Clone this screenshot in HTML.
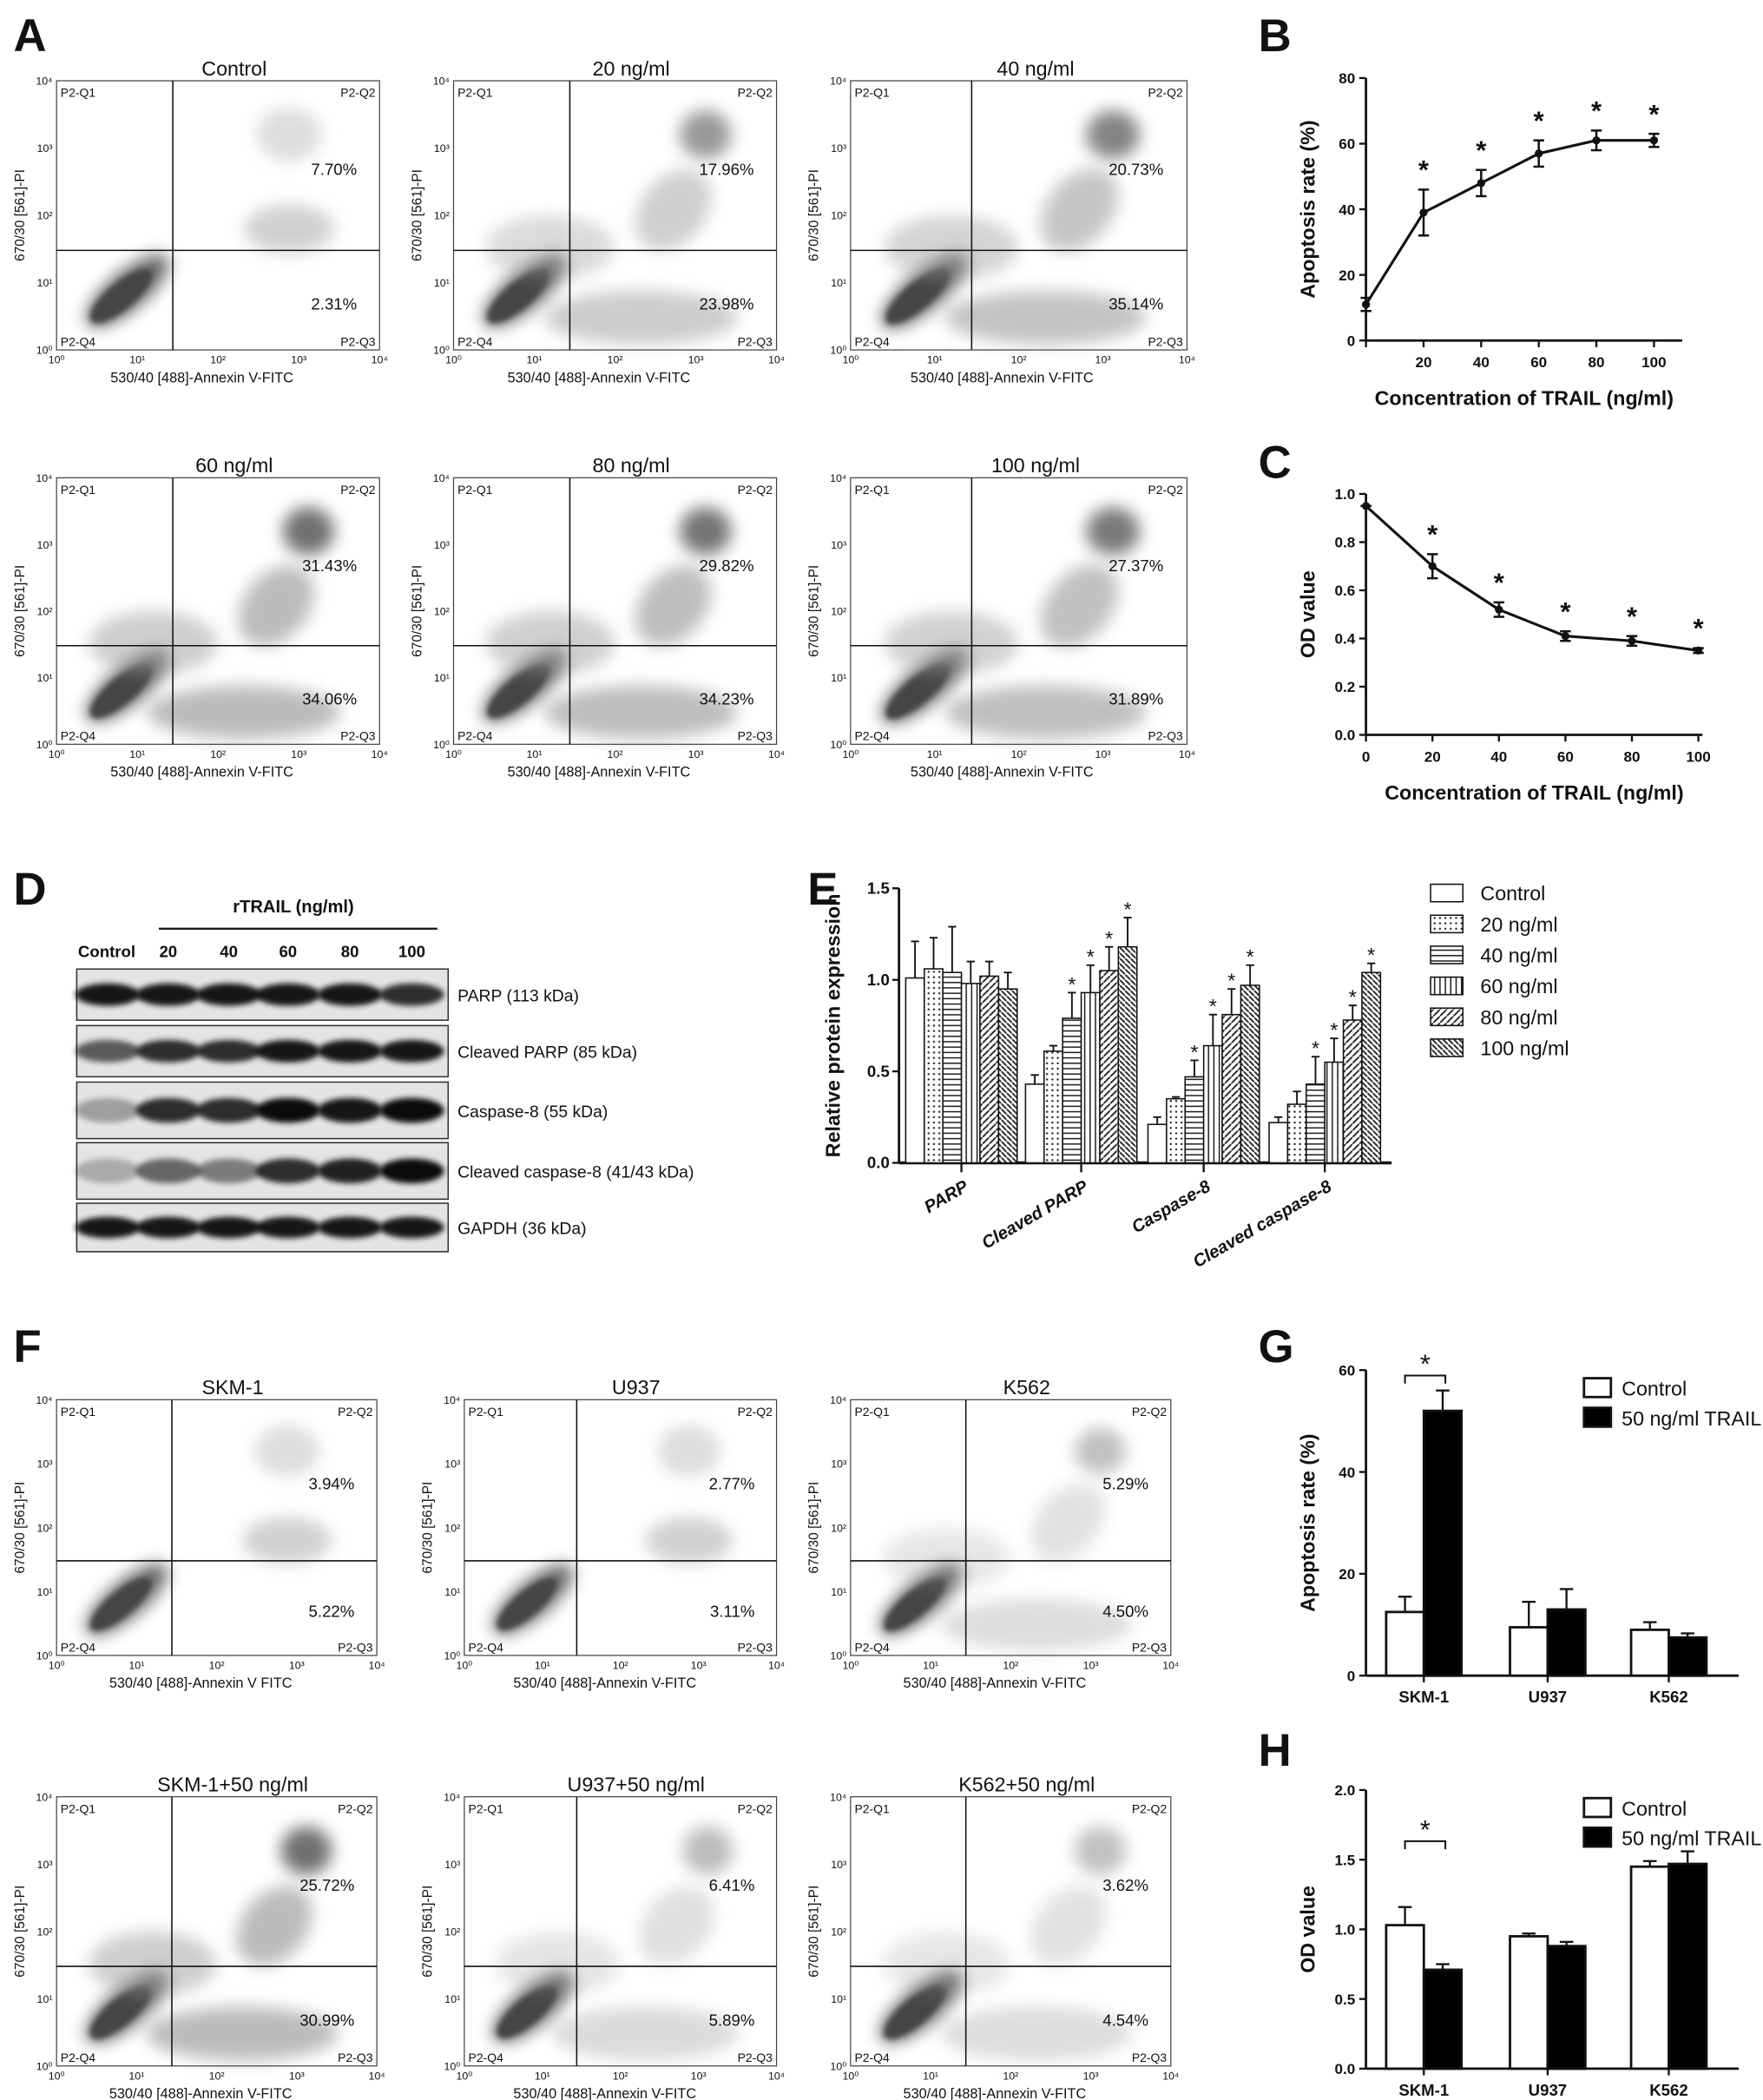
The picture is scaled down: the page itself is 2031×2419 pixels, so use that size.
<!DOCTYPE html>
<html><head><meta charset="utf-8"><style>
body{margin:0;background:#fff}
svg{display:block}
text{font-family:"Liberation Sans",sans-serif;fill:#111}
</style></head><body>
<svg id="fig" width="2031" height="2419" viewBox="0 0 1310 1560.3" xmlns="http://www.w3.org/2000/svg">
<defs>
<filter id="bl" x="-50%" y="-50%" width="200%" height="200%"><feGaussianBlur stdDeviation="6"/></filter>
<filter id="bl2" x="-50%" y="-50%" width="200%" height="200%"><feGaussianBlur stdDeviation="2"/></filter>
<pattern id="pDot" width="4" height="4" patternUnits="userSpaceOnUse"><rect width="4" height="4" fill="#fff"/><circle cx="2" cy="2" r="0.8" fill="#333"/></pattern>
<pattern id="pH" width="4" height="4" patternUnits="userSpaceOnUse"><rect width="4" height="4" fill="#fff"/><line x1="0" y1="2" x2="4" y2="2" stroke="#222" stroke-width="1"/></pattern>
<pattern id="pV" width="4" height="4" patternUnits="userSpaceOnUse"><rect width="4" height="4" fill="#fff"/><line x1="2" y1="0" x2="2" y2="4" stroke="#222" stroke-width="1"/></pattern>
<pattern id="pD1" width="5" height="5" patternUnits="userSpaceOnUse"><rect width="5" height="5" fill="#fff"/><path d="M0 5L5 0" stroke="#222" stroke-width="1.2"/></pattern>
<pattern id="pD2" width="4" height="4" patternUnits="userSpaceOnUse"><rect width="4" height="4" fill="#fff"/><path d="M0 0L4 4" stroke="#222" stroke-width="1.2"/></pattern>
</defs>
<g id="root"></g>
</svg>
<script>
// ---------- data ----------
const bX=[0,20,40,60,80,100];
const bVal=[11,39,48,57,61,61];
const bErr=[2,7,4,4,3,2];
const cX=[0,20,40,60,80,100];
const cVal=[0.95,0.70,0.52,0.41,0.39,0.35];
const cErr=[0,0.05,0.03,0.02,0.02,0.01];
const eGroups=["PARP","Cleaved PARP","Caspase-8","Cleaved caspase-8"];
const eSeries=["Control","20 ng/ml","40 ng/ml","60 ng/ml","80 ng/ml","100 ng/ml"];
const eVal=[[1.01,1.06,1.04,0.98,1.02,0.95],[0.43,0.61,0.79,0.93,1.05,1.18],[0.21,0.35,0.47,0.64,0.81,0.97],[0.22,0.32,0.43,0.55,0.78,1.04]];
const eErr=[[0.2,0.17,0.25,0.12,0.08,0.09],[0.05,0.03,0.14,0.15,0.13,0.16],[0.04,0.01,0.09,0.17,0.14,0.11],[0.03,0.07,0.15,0.13,0.08,0.05]];
const gCats=["SKM-1","U937","K562"];
const gCtrl=[12.5,9.5,9];const gCtrlErr=[3,5,1.5];
const gTrail=[52,13,7.5];const gTrailErr=[4,4,0.8];
const hCtrl=[1.03,0.95,1.45];const hCtrlErr=[0.13,0.02,0.04];
const hTrail=[0.71,0.88,1.47];const hTrailErr=[0.04,0.03,0.09];
const aTitles=["Control","20 ng/ml","40 ng/ml","60 ng/ml","80 ng/ml","100 ng/ml"];
const aQ2=["7.70%","17.96%","20.73%","31.43%","29.82%","27.37%"];
const aQ3=["2.31%","23.98%","35.14%","34.06%","34.23%","31.89%"];
const fTitles=["SKM-1","U937","K562","SKM-1+50 ng/ml","U937+50 ng/ml","K562+50 ng/ml"];
const fQ2=["3.94%","2.77%","5.29%","25.72%","6.41%","3.62%"];
const fQ3=["5.22%","3.11%","4.50%","30.99%","5.89%","4.54%"];
// ---------- helpers ----------
const NS="http://www.w3.org/2000/svg";const root=document.getElementById('root');
function el(tag,at,par,txt){const e=document.createElementNS(NS,tag);for(const k in at)e.setAttribute(k,at[k]);if(txt!==undefined)e.textContent=txt;(par||root).appendChild(e);return e;}
function g(name,par){const e=el('g',{},par);


return e;}
function T(p,x,y,s,o){return el('text',Object.assign({x:x,y:y,'font-size':11},o||{}),p,s);}
function L(p,x1,y1,x2,y2,w){return el('line',{x1,y1,x2,y2,stroke:'#111','stroke-width':w||1.3},p);}
[["A",10,38],["B",935,38],["C",935,355],["D",10,672],["E",600,672],["F",10,1012],["G",935,1012],["H",935,1312]].forEach(a=>{
const t=T(root,a[1],a[2],a[0],{'font-size':34,'font-weight':'bold'});

});
// ---------- flow plots ----------
function flow(x0,y0,w,h,title,q2,q3,lvl,name,flabel){
const p=g(name);
const vx=x0+0.36*w,hy=y0+0.63*h;
const c=g('scatter-cloud',p);
el('ellipse',{cx:x0+0.22*w,cy:y0+0.78*h,rx:0.16*w,ry:0.07*h,transform:`rotate(-40 ${x0+0.22*w} ${y0+0.78*h})`,fill:'#555',opacity:0.9,filter:'url(#bl)'},c);
el('ellipse',{cx:x0+0.2*w,cy:y0+0.8*h,rx:0.12*w,ry:0.05*h,transform:`rotate(-40 ${x0+0.2*w} ${y0+0.8*h})`,fill:'#444',filter:'url(#bl2)'},c);
if(lvl>0){
el('ellipse',{cx:x0+0.58*w,cy:y0+0.88*h,rx:0.3*w,ry:0.1*h,fill:'#888',opacity:0.25+0.35*lvl,filter:'url(#bl)'},c);
el('ellipse',{cx:x0+0.78*w,cy:y0+0.2*h,rx:0.08*w,ry:0.09*h,fill:'#555',opacity:0.3+0.6*lvl,filter:'url(#bl)'},c);
el('ellipse',{cx:x0+0.68*w,cy:y0+0.48*h,rx:0.14*w,ry:0.12*h,transform:`rotate(-50 ${x0+0.68*w} ${y0+0.48*h})`,fill:'#888',opacity:0.2+0.4*lvl,filter:'url(#bl)'},c);
el('ellipse',{cx:x0+0.3*w,cy:y0+0.62*h,rx:0.2*w,ry:0.12*h,fill:'#999',opacity:0.2+0.3*lvl,filter:'url(#bl)'},c);
}else{
el('ellipse',{cx:x0+0.72*w,cy:y0+0.2*h,rx:0.1*w,ry:0.1*h,fill:'#aaa',opacity:0.4,filter:'url(#bl)'},c);
el('ellipse',{cx:x0+0.72*w,cy:y0+0.55*h,rx:0.14*w,ry:0.09*h,fill:'#999',opacity:0.45,filter:'url(#bl)'},c);}
el('rect',{x:x0,y:y0,width:w,height:h,fill:'none',stroke:'#444','stroke-width':0.8},p);
L(p,vx,y0,vx,y0+h,1);L(p,x0,hy,x0+w,hy,1);
T(p,x0+0.55*w,y0-4,title,{'font-size':15,'text-anchor':'middle'});
T(p,x0+3,y0+12,'P2-Q1',{'font-size':9});T(p,x0+w-3,y0+12,'P2-Q2',{'font-size':9,'text-anchor':'end'});
T(p,x0+3,y0+h-3,'P2-Q4',{'font-size':9});T(p,x0+w-3,y0+h-3,'P2-Q3',{'font-size':9,'text-anchor':'end'});
T(p,x0+0.93*w,y0+0.35*h,q2,{'font-size':12,'text-anchor':'end'});T(p,x0+0.93*w,y0+0.85*h,q3,{'font-size':12,'text-anchor':'end'});
for(let i=0;i<5;i++){const tx=x0+i*w/4,ty=y0+h-i*h/4;
T(p,tx,y0+h+10,'10'+['⁰','¹','²','³','⁴'][i],{'font-size':8,'text-anchor':'middle'});
T(p,x0-3,ty+3,'10'+['⁰','¹','²','³','⁴'][i],{'font-size':8,'text-anchor':'end'});}
T(p,x0+0.45*w,y0+h+24,flabel,{'font-size':10.5,'text-anchor':'middle'});
T(p,0,0,'670/30 [561]-PI',{'font-size':10,'text-anchor':'middle',transform:`translate(${x0-24},${y0+h/2}) rotate(-90)`});
}
const aX=[42,337,632],aW=[240,240,250];
const lvA=[0,0.5,0.7,0.9,0.85,0.8];
for(let i=0;i<6;i++){const r=Math.floor(i/3),k=i%3;flow(aX[k],r?355:60,aW[k],r?198:200,aTitles[i],aQ2[i],aQ3[i],lvA[i],'flow-plot-a-'+(i+1),'530/40 [488]-Annexin V-FITC');}
const fX=[42,345,632],fW=[238,232,238];
const lvF=[0,0,0.1,0.9,0.15,0.1];
for(let i=0;i<6;i++){const r=Math.floor(i/3),k=i%3;flow(fX[k],r?1335:1040,fW[k],r?200:190,fTitles[i],fQ2[i],fQ3[i],lvF[i],'flow-plot-f-'+(i+1),i%3==0&&i<3?'530/40 [488]-Annexin V FITC':'530/40 [488]-Annexin V-FITC');}
// ---------- line charts ----------
function lineChart(name,x0,x1,y0,y1,ymax,yticks,fmt,xs,vals,errs,ylab,xend){
const p=g(name);const sx=v=>x0+(x1-x0)*v/100,sy=v=>y0-(y0-y1)*v/ymax;
L(p,x0,y0,x0,sy(ymax),1.8);L(p,x0,y0,xend,y0,1.8);
yticks.forEach(t=>{L(p,x0-5,sy(t),x0,sy(t),1.5);T(p,x0-8,sy(t)+4,fmt(t),{'font-size':11,'font-weight':'bold','text-anchor':'end'});});
[0,20,40,60,80,100].forEach(t=>{L(p,sx(t),y0,sx(t),y0+5,1.5);if(t>0||name=='chart-c')T(p,sx(t),y0+20,t,{'font-size':11,'font-weight':'bold','text-anchor':'middle'});});
el('polyline',{points:xs.map((x,i)=>sx(x)+','+sy(vals[i])).join(' '),fill:'none',stroke:'#111','stroke-width':2},p);
xs.forEach((x,i)=>{const X=sx(x);L(p,X,sy(vals[i]+errs[i]),X,sy(vals[i]-errs[i]),1.6);L(p,X-4,sy(vals[i]+errs[i]),X+4,sy(vals[i]+errs[i]),1.6);L(p,X-4,sy(vals[i]-errs[i]),X+4,sy(vals[i]-errs[i]),1.6);
el('circle',{cx:X,cy:sy(vals[i]),r:3,fill:'#111'},p);
if(i>0)T(p,X,sy(vals[i]+errs[i])-8,'*',{'font-size':20,'font-weight':'bold','text-anchor':'middle'});});
T(p,(x0+xend)/2,y0+48,'Concentration of TRAIL (ng/ml)',{'font-size':15,'font-weight':'bold','text-anchor':'middle'});
T(p,0,0,ylab,{'font-size':15,'font-weight':'bold','text-anchor':'middle',transform:`translate(${x0-38},${(y0+sy(ymax))/2}) rotate(-90)`});
}
lineChart('chart-b',1015,1229,253,58,80,[0,20,40,60,80],t=>t,bX,bVal,bErr,'Apoptosis rate (%)',1250);
lineChart('chart-c',1015,1262,546,367,1.0,[0,0.2,0.4,0.6,0.8,1.0],t=>t.toFixed(1),cX,cVal,cErr,'OD value',1265);
// ---------- blot ----------
(function(){const p=g('western-blot-d');
T(p,218,678,'rTRAIL (ng/ml)',{'font-size':13,'font-weight':'bold','text-anchor':'middle'});L(p,118,690,325,690,1.5);
T(p,58,711,'Control',{'font-size':12,'font-weight':'bold'});
[['20',125],['40',170],['60',214],['80',260],['100',306]].forEach(a=>T(p,a[1],711,a[0],{'font-size':12,'font-weight':'bold','text-anchor':'middle'}));
const rows=[[720,758,'PARP (113 kDa)',[.9,.9,.9,.9,.9,.8]],[762,800,'Cleaved PARP (85 kDa)',[.6,.8,.8,.9,.9,.9]],[804,846,'Caspase-8 (55 kDa)',[.3,.8,.8,.95,.9,.95]],[849,891,'Cleaved caspase-8 (41/43 kDa)',[.25,.55,.45,.8,.85,.95]],[894,930,'GAPDH (36 kDa)',[.9,.9,.9,.9,.9,.9]]];
const lanes=[80,125,170,214,260,306];
rows.forEach(r=>{el('rect',{x:57,y:r[0],width:276,height:r[1]-r[0],fill:'#e4e4e4',stroke:'#333','stroke-width':1},p);
lanes.forEach((lx,i)=>el('ellipse',{cx:lx,cy:(r[0]+r[1])/2,rx:24,ry:(r[1]-r[0])*0.22,fill:'#000',opacity:r[3][i],filter:'url(#bl2)'},p));
T(p,340,(r[0]+r[1])/2+5,r[2],{'font-size':12.5});});})();
// ---------- bar chart E ----------
(function(){const p=g('chart-e');const x0=668,y0=864,yt=660,sy=v=>y0-(y0-yt)*v/1.5;
const fills=['#fff','url(#pDot)','url(#pH)','url(#pV)','url(#pD1)','url(#pD2)'];
L(p,x0,y0,x0,yt,1.8);L(p,x0,y0,1034,y0,2.2);
[0,0.5,1.0,1.5].forEach(t=>{L(p,x0-5,sy(t),x0,sy(t),1.5);T(p,x0-7,sy(t)+4,t.toFixed(1),{'font-size':12,'font-weight':'bold','text-anchor':'end'});});
const gs=[673,762,853,943],bw=13.8;
eGroups.forEach((gn,gi)=>{eVal[gi].forEach((v,si)=>{const x=gs[gi]+si*bw,top=sy(v),et=sy(v+eErr[gi][si]);
el('rect',{x:x,y:top,width:bw,height:y0-top,fill:fills[si],stroke:'#111','stroke-width':1},p);
L(p,x+bw/2,top,x+bw/2,et,1.2);L(p,x+bw/2-3,et,x+bw/2+3,et,1.2);
if(gi>0&&si>1)T(p,x+bw/2,et-1,'*',{'font-size':15,'text-anchor':'middle'});});
const cx=gs[gi]+3*bw;L(p,cx,y0,cx,y0+7,1.5);
T(p,0,0,gn,{'font-size':13,'font-weight':'bold','font-style':'italic','text-anchor':'end',transform:`translate(${cx+6},${y0+20}) rotate(-30)`});});
T(p,0,0,'Relative protein expression',{'font-size':15,'font-weight':'bold','text-anchor':'middle',transform:`translate(624,${(y0+yt)/2}) rotate(-90)`});
eSeries.forEach((s,i)=>{const y=657+i*23;el('rect',{x:1063,y:y,width:24,height:13,fill:fills[i],stroke:'#111','stroke-width':1},p);T(p,1100,y+12,s,{'font-size':15});});})();
// ---------- G/H ----------
function pair(name,x0,y0,yt,ymax,ticks,fmt,c,ce,t,te,ylab,sig){
const p=g(name);const sy=v=>y0-(y0-yt)*v/ymax;
L(p,x0,y0,x0,yt,1.8);L(p,x0,y0,1292,y0,1.8);
ticks.forEach(v=>{L(p,x0-5,sy(v),x0,sy(v),1.5);T(p,x0-8,sy(v)+4,fmt(v),{'font-size':11,'font-weight':'bold','text-anchor':'end'});});
const cs=[1058,1150,1240],bw=28;
gCats.forEach((cn,i)=>{[[c,ce,'#fff',-bw],[t,te,'#000',0]].forEach(s=>{const x=cs[i]+s[3],top=sy(s[0][i]),et=sy(s[0][i]+s[1][i]);
L(p,x+bw/2,top,x+bw/2,et,1.5);L(p,x+bw/2-5,et,x+bw/2+5,et,1.5);
el('rect',{x:x,y:top,width:bw,height:y0-top,fill:s[2],stroke:'#111','stroke-width':1.8},p);});
L(p,cs[i],y0,cs[i],y0+5,1.5);T(p,cs[i],y0+20,cn,{'font-size':12,'font-weight':'bold','text-anchor':'middle'});});
el('path',{d:`M1044 ${sig+6}V${sig}H1074V${sig+6}`,fill:'none',stroke:'#111','stroke-width':1.3},p);
T(p,1059,sig-2,'*',{'font-size':20,'text-anchor':'middle'});
el('rect',{x:1177,y:yt+6,width:20,height:14,fill:'#fff',stroke:'#111','stroke-width':1.8},p);T(p,1205,yt+19,'Control',{'font-size':15});
el('rect',{x:1177,y:yt+28,width:20,height:14,fill:'#000',stroke:'#111','stroke-width':1.8},p);T(p,1205,yt+41,'50 ng/ml TRAIL',{'font-size':15});
T(p,0,0,ylab,{'font-size':15,'font-weight':'bold','text-anchor':'middle',transform:`translate(${x0-38},${(y0+yt)/2}) rotate(-90)`});}
pair('chart-g',1015,1245,1018,60,[0,20,40,60],v=>v,gCtrl,gCtrlErr,gTrail,gTrailErr,'Apoptosis rate (%)',1022);
pair('chart-h',1015,1537,1330,2.0,[0,0.5,1.0,1.5,2.0],v=>v.toFixed(1),hCtrl,hCtrlErr,hTrail,hTrailErr,'OD value',1368);
</script>
</body></html>
